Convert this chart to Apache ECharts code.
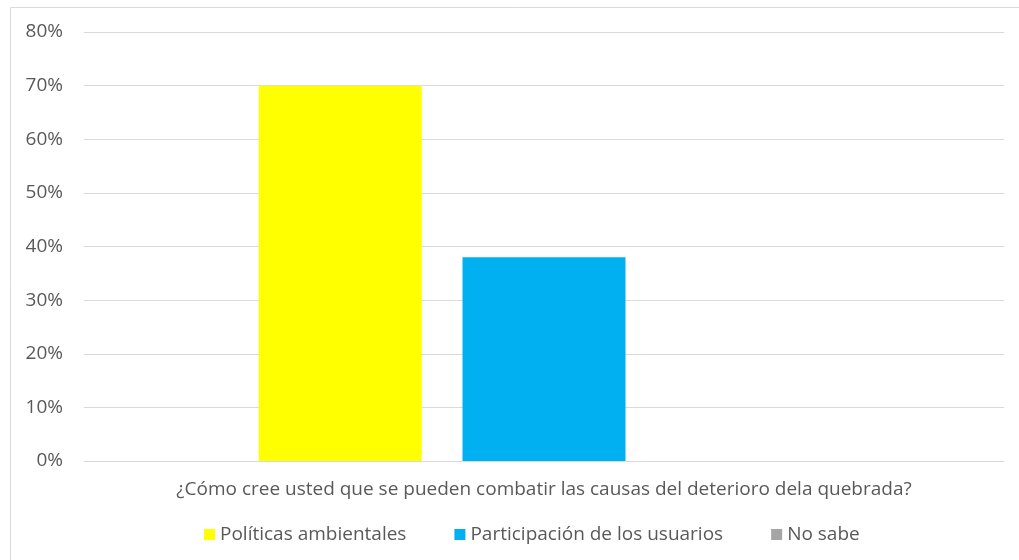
<!DOCTYPE html>
<html>
<head>
<meta charset="utf-8">
<script src="https://cdn.jsdelivr.net/npm/echarts@6/dist/echarts.min.js"></script>
<style>
  html, body { margin: 0; padding: 0; background: #fff; }
  #chart { width: 1019px; height: 560px; }
</style>
</head>
<body>
<div id="chart"></div>
<script>
// data
const categories = ['¿Cómo cree usted que se pueden combatir las causas del deterioro dela quebrada?'];
const seriesNames = ['Políticas ambientales', 'Participación de los usuarios', 'No sabe'];
const seriesValues = [[0.70], [0.38], [0]];
const seriesColors = ['#ffff00', '#00b0f0', '#a5a5a5'];

const font = '"Open Sans", "Noto Sans", sans-serif';
const fs = 19;
const chart = echarts.init(document.getElementById('chart'));

chart.setOption({
  animation: false,
  textStyle: { fontFamily: font, color: '#595959' },
  graphic: [{
    type: 'rect',
    shape: { x: 10.5, y: 7.5, width: 1030, height: 600 },
    style: { fill: 'none', stroke: '#d9d9d9', lineWidth: 1 },
    silent: true
  }],
  grid: { left: 84, right: 15, top: 32, bottom: 99 },
  legend: {
    data: seriesNames,
    bottom: 11,
    left: 199,
    itemWidth: 11,
    itemHeight: 11,
    itemGap: 48,
    icon: 'rect',
    textStyle: { fontSize: fs, color: '#595959', fontFamily: font }
  },
  xAxis: {
    type: 'category',
    data: categories,
    axisLine: { lineStyle: { color: '#d9d9d9' } },
    axisTick: { show: false },
    axisLabel: { fontSize: fs, color: '#595959', margin: 19 }
  },
  yAxis: {
    type: 'value',
    min: 0,
    max: 0.8,
    interval: 0.1,
    axisLine: { show: false },
    axisTick: { show: false },
    splitLine: { lineStyle: { color: '#d9d9d9' } },
    axisLabel: {
      fontSize: fs,
      color: '#595959',
      margin: 21,
      formatter: v => Math.round(v * 100) + '%'
    }
  },
  series: seriesNames.map((name, i) => ({
    name: name,
    type: 'bar',
    data: seriesValues[i],
    barWidth: 163,
    barGap: '25%',
    itemStyle: { color: seriesColors[i] }
  }))
});
</script>
</body>
</html>
